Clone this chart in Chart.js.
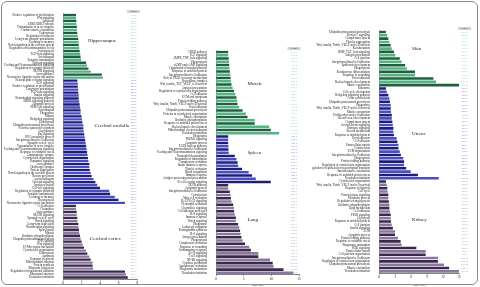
<!DOCTYPE html>
<html>
<head>
<meta charset="utf-8">
<script src="https://cdn.jsdelivr.net/npm/chart.js@4"></script>
<style>
  body { margin: 0; background: #fff; width: 480px; height: 287px; overflow: hidden; }
  #frame { position: absolute; left: 1px; top: 1px; width: 475px; height: 282px; border: 1px solid #8a8a8a; border-radius: 6px; pointer-events: none; }
  .panel { position: absolute; }
</style>
</head>
<body>
<div class="panel" style="left:4px;top:9px;width:140px;height:278px"><canvas id="c1"></canvas></div>
<div class="panel" style="left:150px;top:40px;width:155px;height:247px"><canvas id="c2"></canvas></div>
<div class="panel" style="left:312px;top:20px;width:167px;height:267px"><canvas id="c3"></canvas></div>
<div id="frame"></div>
<script>
// --- Data: left panel ---
const hippoLabels = ["Positive regulation of proliferation", "Wnt signaling", "Apoptosis", "ERK1/ERK2 cascade",
  "Transmission of nerve impulse", "Cardiac muscle contraction", "Endocytosis", "Regulation of behavior",
  "Long-term synaptic potentiation", "Learning or memory", "Notch signaling in the nervous system",
  "Regulation of neurotransmitter levels", "Axonogenesis", "TGF-beta signaling", "Ion transport",
  "Synaptic transmission", "Calcium signaling", "Feeding and Neurotransmission signaling",
  "Regulation of synaptic plasticity", "MAPK signaling", "Axon guidance", "Neuroactive ligand-receptor interaction"];
const hippoValues = [1.4, 1.4, 1.45, 1.45, 1.5, 1.5, 1.55, 1.6, 1.65, 1.7, 1.7, 1.75, 1.8, 1.85, 1.9, 1.95,
  2.5, 2.6, 2.75, 3.0, 4.2, 4.3];

const medullaLabels = ["Neuropeptide receptor signaling", "EGF signaling", "Positive regulation of proliferation",
  "Long-term potentiation", "TGF-beta signaling", "Insulin signaling", "Neurotrophin signaling pathway",
  "ERBB signaling pathway", "Apoptotic process", "PI3K-Akt signaling", "Ion transport", "Phagosome", "Mitosis",
  "Hedgehog signaling", "Endocytosis", "Ubiquitin proteasomal proteolysis", "Nervous system development",
  "Gap junction", "Ras signaling", "RNA metabolic process", "Integrin-mediated cell adhesion",
  "Synaptic vesicle cycle", "Transmission of nerve impulse", "Feeding and Neurotransmission signaling",
  "Response to oxidative stress", "Glutamatergic synapse", "Cytoskeletal organization", "Dopamine signaling",
  "Axon guidance", "Cholinergic synapse", "Protein aggregation", "Notch signaling in the nervous system",
  "Neuron projection", "Axonal transport", "Calcium signaling", "Insulin secretion", "Cell-cell signaling",
  "Regulation of synaptic plasticity", "Synaptic transmission", "Learning or memory", "Neurogenesis",
  "Neuroactive ligand-receptor interaction"];
const medullaValues = [1.55, 1.6, 1.6, 1.65, 1.65, 1.7, 1.7, 1.75, 1.8, 1.85, 1.9, 1.9, 2.0, 2.05, 2.1, 2.2,
  2.2, 2.25, 2.3, 2.35, 2.4, 2.45, 2.5, 2.55, 2.6, 2.65, 2.7, 2.75, 2.85, 2.85, 2.9, 3.0, 3.1, 3.3, 3.5, 3.7,
  4.0, 5.0, 5.1, 5.6, 6.0, 6.7];

const cortexLabels = ["Cell adhesion", "Chemokine", "Axon guidance", "MAPK signaling", "Synaptic vesicle cycle",
  "Notch signaling", "Long-term depression", "Neurotrophin signaling", "Spliceosome", "Mitosis",
  "Oxidative phosphorylation", "Ubiquitin proteasomal proteolysis", "RNA splicing", "Wnt signaling",
  "ECM-receptor interaction", "Cytoskeletal organization", "Endocytosis", "Apoptosis", "Transport in general",
  "Mitochondrial function", "Protein synthesis", "Ribosome biogenesis", "Regulation of translational initiation",
  "Ribosomal structure", "Translation initiation"];
const cortexValues = [1.4, 1.4, 1.48, 1.48, 1.55, 1.55, 1.66, 1.66, 1.73, 1.75, 1.84, 1.91, 2.02, 2.13, 2.27,
  2.49, 2.63, 2.85, 2.99, 3.2, 3.2, 3.25, 6.7, 6.8, 7.0];

// --- Data: middle panel ---
const muscleLabels = ["CREB pathway", "FGF signaling", "AMPK_TNF_beta signaling", "Phagocytosis",
  "cGMP and cAMP signaling", "Cytoplasmic ribosomal proteins", "Response to unfolded protein",
  "Integrin-mediated cell adhesion", "Role of PPAR in energy metabolism", "Proteasome complex",
  "Wnt, insulin, TGF, VEGF, cell survival", "Antigen presentation", "Regulation of cytoskeleton organization",
  "Cell adhesion", "ECM and cytoplasm", "Protein folding pathway", "Wnt, insulin, Notch, VEGF and cell survival",
  "Focal adhesion", "Ubiquitin proteasomal proteolysis", "Proteins in cytoskeletal organization",
  "Muscle contraction", "Oxidative phosphorylation", "Response to unfolded protein stress",
  "Skeletal muscle development", "Mitochondrial electron transport", "Translation initiation"];
const muscleValues = [2.2, 2.2, 2.3, 2.35, 2.4, 2.45, 2.5, 2.6, 2.65, 2.7, 2.8, 3.0, 3.25, 3.5, 3.7, 3.8, 3.9,
  4.2, 4.8, 5.4, 5.7, 7.0, 7.0, 9.6, 9.9, 11.4];

const spleenLabels = ["Phagosome", "TREM1 signaling", "Apoptotic process", "EGFR nuclear pathway",
  "Integrin-mediated cell adhesion", "Feeding and Neurotransmission signaling", "Neutrophil degranulation",
  "Regulation of transcription", "Complement activation", "Innate immune response", "Platelet activation",
  "Blood coagulation", "Immune response", "Antigen processing and presentation", "B cell receptor signaling"];
const spleenValues = [2.2, 2.2, 2.2, 2.25, 2.25, 2.3, 3.4, 3.7, 3.9, 4.0, 4.7, 5.9, 6.5, 7.2, 9.9];

const lungLabels = ["EGFR pathway", "Apoptotic process", "Integrin-mediated cell adhesion", "Cytoskeleton",
  "Mast cell activation", "IL-12/IL-23 signaling", "Neutrophil activation", "Chemokine signaling",
  "Cell adhesion molecules", "IL-6 signaling", "Immune response", "Notch signaling", "Phagosome",
  "Leukocyte migration", "Prostaglandin synthesis", "IL-2 signaling", "Antigen presentation", "Phagocytosis",
  "Complement activation", "Response to wounding", "Inflammatory response", "IL-10 signaling", "T cell signaling",
  "NF-kB signaling", "Cytokine production", "Lymphocyte activation", "Phagosome maturation",
  "Translation initiation"];
const lungValues = [2.2, 2.2, 2.5, 2.65, 2.7, 2.8, 3.1, 3.25, 3.25, 3.4, 3.6, 3.6, 4.0, 4.2, 4.35, 4.45, 4.6,
  4.8, 5.25, 6.0, 6.3, 7.65, 7.65, 9.75, 10.25, 10.4, 12.2, 14.0];

// --- Data: right panel ---
const skinLabels = ["Ubiquitin proteasomal proteolysis", "Protein C signaling", "Complement system",
  "Platelet aggregation", "Wnt, insulin, Notch, VEGF and cell survival", "Keratinization",
  "BMP_TGF_beta signaling", "Antigen presentation", "Cell junction", "Integrin-mediated cell adhesion",
  "Epidermis development", "Phagocytosis", "Keratinocyte differentiation", "Response to wounding",
  "Focal adhesion", "Skeletal muscle development", "Muscle contraction"];
const skinValues = [1.3, 1.55, 1.75, 1.95, 2.2, 2.4, 2.8, 3.05, 3.9, 4.25, 4.9, 5.2, 6.75, 6.75, 10.2, 10.7, 15.0];

const uterusLabels = ["Ribosome", "Cell cycle checkpoints", "Hedgehog signaling pathway", "Actin cytoskeleton",
  "Ubiquitin proteasomal proteolysis", "Phagosome", "Wnt, insulin, Notch, VEGF and cell survival",
  "Muscle contraction", "Proliferation and cell adhesion", "Blood vessel development", "Complement system",
  "Growth factor signaling", "Hormone signaling", "Steroid metabolism", "Response to unfolded protein",
  "Focal adhesion", "Cell adhesion", "Extracellular matrix", "Cytoskeleton", "ECM organization",
  "Integrin-mediated cell adhesion", "Phagocytosis", "Protein folding pathway",
  "Regulation of cytoskeleton organization", "Regulation of epithelial to mesenchymal transition",
  "Smooth muscle contraction", "Response to unfolded protein stress", "Translation initiation"];
const uterusValues = [1.3, 1.45, 1.75, 1.95, 2.05, 2.2, 2.2, 2.25, 2.4, 2.4, 2.5, 2.6, 2.7, 2.7, 2.8, 3.3, 3.45,
  3.65, 3.65, 3.9, 4.1, 4.55, 4.7, 4.7, 5.1, 5.95, 7.3, 11.2];

const kidneyLabels = ["Cytoskeletal organization", "Wnt, insulin, Notch, VEGF and cell survival",
  "Response to hypoxia", "Cell cycle", "Protein kinase signaling", "Metabolic process", "Regulation of angiogenesis",
  "Oxidative phosphorylation", "Lipid metabolism", "Cell adhesion", "PPAR signaling", "Glycolysis",
  "Response to unfolded protein", "Cell junction", "Insulin signaling", "ECM", "Apoptotic process",
  "Protein folding pathway", "Response to oxidative stress", "Phagosome maturation", "PI3K signaling",
  "Extracellular matrix", "Cell junction organization", "Integrin-mediated cell adhesion",
  "Regulation of cytoskeleton organization", "Ubiquitin proteasomal proteolysis", "Muscle contraction",
  "Translation initiation"];
const kidneyValues = [1.3, 1.45, 1.55, 1.6, 1.75, 1.75, 1.85, 1.95, 1.95, 2.05, 2.2, 2.2, 2.25, 2.4, 2.6, 3.0,
  3.0, 3.55, 4.05, 4.25, 7.0, 8.75, 8.75, 11.05, 11.05, 12.2, 13.15, 15.0];

const axisTitle = "-log(p value)";
const headerText = "P value";

// --- Colours ---
const GREEN = { dark: "#1f5f3f", light: "#52b582", text: "#6fcf9f" };
const BLUE = { dark: "#1e1e78", light: "#4c4cc6", text: "#7070e0" };
const PURPLE = { dark: "#3a2a4a", light: "#8a78a0", text: "#a090bc" };

// draws tissue names, the p value column and its header box
function overlay(groups, numDx) {
  return {
    id: "overlay",
    afterDatasetsDraw(chart) {
      const { ctx, chartArea } = chart;
      const x = chart.scales.x, y = chart.scales.y;
      const colX = chartArea.right + numDx;
      ctx.save();
      const y0 = y.getPixelForValue(0);
      ctx.fillStyle = "#d4d4d4";
      ctx.fillRect(colX - 6.5, y0 - 5, 13, 3);
      ctx.fillStyle = "#333";
      ctx.font = '2px "Liberation Sans"';
      ctx.textAlign = "center";
      ctx.textBaseline = "middle";
      ctx.fillText(headerText, colX, y0 - 3.5);
      let start = 0;
      groups.forEach((g) => {
        ctx.font = '5px "Liberation Serif"';
        ctx.fillStyle = "#1a1a1a";
        ctx.textAlign = "left";
        ctx.fillText(g.name, x.getPixelForValue(g.titleX), y.getPixelForValue(start + g.titleIdx));
        ctx.font = '2px "Liberation Sans"';
        ctx.fillStyle = g.colors.text;
        ctx.textAlign = "center";
        g.values.forEach((v, i) => {
          ctx.fillText(Math.pow(10, -v).toExponential(1), colX, y.getPixelForValue(start + i));
        });
        start += g.values.length;
      });
      ctx.restore();
    },
  };
}

function makePanel(id, groups, cfg) {
  const labels = [], values = [], colors = [];
  groups.forEach((g) => {
    g.values.forEach((v, i) => {
      labels.push(g.labels[i]);
      values.push(v);
      colors.push(i % 2 === 0 ? g.colors.dark : g.colors.light);
    });
  });

  new Chart(document.getElementById(id), {
    type: "bar",
    data: {
      labels: labels,
      datasets: [{ data: values, backgroundColor: colors, barPercentage: 0.78, categoryPercentage: 1 }],
    },
    options: {
      indexAxis: "y",
      responsive: true,
      maintainAspectRatio: false,
      animation: false,
      layout: { padding: { top: cfg.padTop, right: cfg.padRight, left: 0, bottom: 0 } },
      plugins: { legend: { display: false }, tooltip: { enabled: false } },
      scales: {
        x: {
          min: 0,
          max: cfg.max,
          ticks: { stepSize: cfg.step, font: { size: 3.5, family: "Liberation Serif" }, color: "#222", padding: 0.5, maxRotation: 0 },
          grid: { drawOnChartArea: false, tickLength: 1.5, color: "#333", lineWidth: 0.5 },
          border: { color: "#333", width: 0.6 },
          title: { display: cfg.showTitle, text: axisTitle, font: { size: 2.5, family: "Liberation Serif" }, color: "#333", padding: 0 },
          afterFit(s) { s.height = cfg.axisH; },
        },
        y: {
          ticks: { autoSkip: false, font: { size: 3, family: "Liberation Serif" }, color: "#222", padding: 1 },
          grid: { display: false },
          border: { display: true, color: "#555", width: 0.5 },
          afterFit(s) { s.width = cfg.labelW; },
        },
      },
    },
    plugins: [overlay(groups, cfg.numDx)],
  });
}

makePanel("c1", [
  { name: "Hippocampus", labels: hippoLabels, values: hippoValues, colors: GREEN, titleIdx: 8.5, titleX: 2.7 },
  { name: "Cerebral medulla", labels: medullaLabels, values: medullaValues, colors: BLUE, titleIdx: 15, titleX: 3.4 },
  { name: "Cerebral cortex", labels: cortexLabels, values: cortexValues, colors: PURPLE, titleIdx: 11, titleX: 2.9 },
], { max: 8, step: 2, labelW: 59, padTop: 4.5, padRight: 7, axisH: 8, numDx: -3.5, showTitle: false });

makePanel("c2", [
  { name: "Muscle", labels: muscleLabels, values: muscleValues, colors: GREEN, titleIdx: 9.8, titleX: 5.7 },
  { name: "Spleen", labels: spleenLabels, values: spleenValues, colors: BLUE, titleIdx: 5, titleX: 5.7 },
  { name: "Lung", labels: lungLabels, values: lungValues, colors: PURPLE, titleIdx: 10.5, titleX: 5.7 },
], { max: 15, step: 5, labelW: 66, padTop: 10.4, padRight: 6, axisH: 12.5, numDx: -5, showTitle: true });

makePanel("c3", [
  { name: "Skin", labels: skinLabels, values: skinValues, colors: GREEN, titleIdx: 5, titleX: 6.2 },
  { name: "Uterus", labels: uterusLabels, values: uterusValues, colors: BLUE, titleIdx: 13.5, titleX: 6.2 },
  { name: "Kidney", labels: kidneyLabels, values: kidneyValues, colors: PURPLE, titleIdx: 11.5, titleX: 6.2 },
], { max: 15, step: 3, labelW: 67, padTop: 10.3, padRight: 20, axisH: 14, numDx: 5.5, showTitle: true });
</script>
</body>
</html>
